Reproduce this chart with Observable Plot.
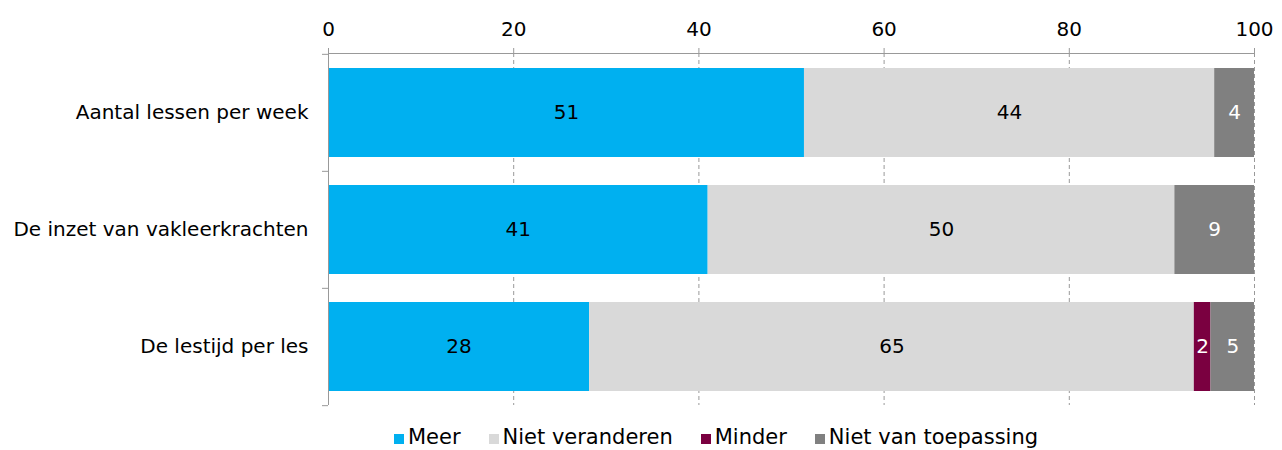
<!DOCTYPE html>
<html>
<head>
<meta charset="utf-8">
<script src="https://cdn.jsdelivr.net/npm/d3@7"></script>
<script src="https://cdn.jsdelivr.net/npm/@observablehq/plot@0.6"></script>
<style>
  html, body { margin: 0; padding: 0; background: #fff; }
  body { width: 1282px; height: 450px; overflow: hidden; font-family: "DejaVu Sans", sans-serif; }
  #legend { display: flex; justify-content: center; padding-left: 150px; margin-top: 8px; font-size: 21px; line-height: 26px; color: #000; }
  #legend .item { display: flex; align-items: center; margin-right: 28px; }
  #legend .item:last-child { margin-right: 0; }
  #legend .sw { width: 10px; height: 10px; margin-right: 4px; margin-top: 4px; }
</style>
</head>
<body>
<div id="chart"></div>
<div id="legend"></div>
<script>
const categories = ["Aantal lessen per week", "De inzet van vakleerkrachten", "De lestijd per les"];
const series = ["Meer", "Niet veranderen", "Minder", "Niet van toepassing"];
const meer = [51.4, 41.0, 28.2];
const nietVeranderen = [44.3, 50.4, 65.3];
const minder = [0, 0, 1.8];
const nietVanToepassing = [4.3, 8.6, 4.7];
const xTicks = [0, 20, 40, 60, 80, 100];
const colors = ["#00B0F0", "#D9D9D9", "#7A0040", "#808080"];
const textColors = ["#000000", "#000000", "#FFFFFF", "#FFFFFF"];

const seriesValues = [meer, nietVeranderen, minder, nietVanToepassing];
const data = [];
categories.forEach((c, i) => {
  series.forEach((s, j) => {
    data.push({category: c, series: s, value: seriesValues[j][i]});
  });
});

const height = 416, marginTop = 53, marginBottom = 11;
const step = (height - marginTop - marginBottom) / categories.length;

const chart = Plot.plot({
  width: 1282,
  height,
  marginTop,
  marginBottom,
  marginLeft: 328,
  marginRight: 28,
  style: {fontFamily: "DejaVu Sans, sans-serif", fontSize: "20px", color: "#000", background: "#fff", overflow: "visible"},
  x: {domain: [0, 100], axis: null, label: null},
  y: {domain: categories, paddingInner: 0.24, paddingOuter: 0.12, axis: null, label: null},
  color: {domain: series, range: colors},
  marks: [
    Plot.gridX(xTicks.slice(1), {stroke: "#999", strokeOpacity: 1, strokeDasharray: "4,3"}),
    Plot.barX(data, Plot.stackX({x: "value", y: "category", fill: "series", order: series})),
    Plot.text(data, Plot.stackX({
      x: "value", y: "category", z: "series", order: series,
      filter: d => d.value > 0,
      text: d => String(Math.round(d.value)),
      fill: d => textColors[series.indexOf(d.series)],
      fontSize: 20
    })),
    Plot.ruleX([0], {stroke: "#999", strokeWidth: 1}),
    Plot.frame({anchor: "top", stroke: "#999"}),
    Plot.axisX({anchor: "top", label: null, ticks: xTicks, tickSize: 6, tickPadding: 12, stroke: "#999", fill: "#000", fontSize: 20, tickFormat: d => String(d)}),
    Plot.axisY({anchor: "left", label: null, tickSize: 0, tickPadding: 20, fill: "#000", fontSize: 20}),
    Plot.axisY({anchor: "left", label: null, tickSize: 6, tickFormat: () => "", stroke: "#999", dy: -step / 2}),
    Plot.axisY({anchor: "left", label: null, ticks: [categories[categories.length - 1]], tickSize: 6, tickFormat: () => "", stroke: "#999", dy: step / 2})
  ]
});
document.getElementById("chart").appendChild(chart);

const legend = document.getElementById("legend");
series.forEach((s, j) => {
  const item = document.createElement("div");
  item.className = "item";
  const sw = document.createElement("span");
  sw.className = "sw";
  sw.style.background = colors[j];
  const label = document.createElement("span");
  label.textContent = s;
  item.appendChild(sw);
  item.appendChild(label);
  legend.appendChild(item);
});
</script>
</body>
</html>
